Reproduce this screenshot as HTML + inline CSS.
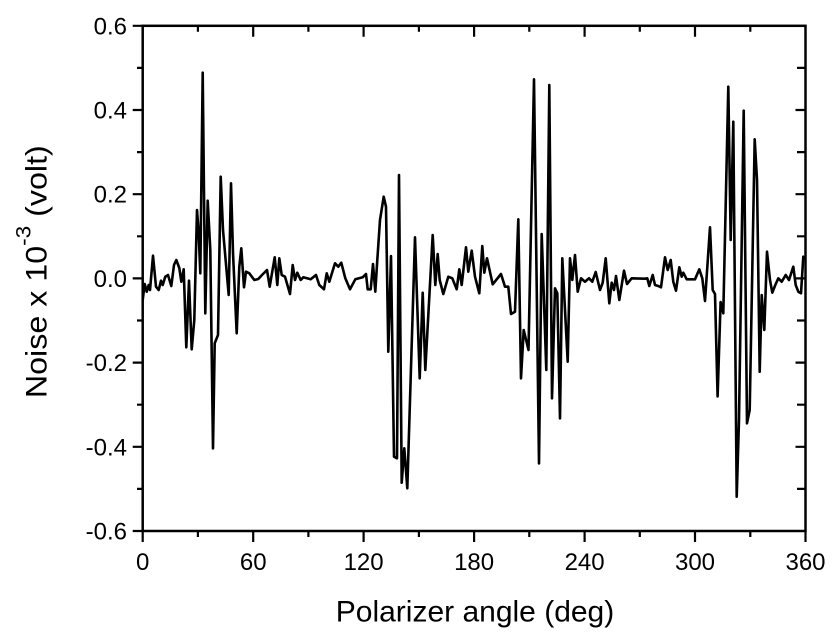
<!DOCTYPE html>
<html>
<head>
<meta charset="utf-8">
<style>
  html, body { margin: 0; padding: 0; background: #fff; }
  svg { display: block; }
  text { font-family: "Liberation Sans", Arial, sans-serif; fill: #000; }
</style>
</head>
<body>
<svg width="838" height="640" viewBox="0 0 838 640" xmlns="http://www.w3.org/2000/svg">
  <rect width="838" height="640" fill="#fff"/>

  <!-- data series -->
  <polyline fill="none" stroke="#000" stroke-width="2.6" stroke-linejoin="round" stroke-linecap="round" points="
142.7,300 144.7,284 146.7,291.7 148.7,285 150,290 153,255.7 156,286.7 158.7,290 161,280.7 162.7,285 165.3,276.7 168,275 171.3,286 174,265 176.3,260 179.3,268 181.3,281.7 183.7,269.3 186.3,347.3 189,280.7 191.7,349.3 194.3,320 197,210 198.7,233 200.3,273.3 202.7,72.7 204,193.3 205.3,313.3 207.7,200.7 210.3,250 213,448.3 214.7,343.3 218,335 220.7,176.7 223,230 228.7,295 231,183.3 233,253 236.7,333.3 239.3,266.7 241.3,248.3 244,287.3 246,271.7 249.3,273.3 254.3,280 258.3,279 262,275 267,270 269.7,286.7
274.7,257.3 277.3,285 279.3,258.3 281.7,275 285,276.7 290,294 292.7,265 295,280 297.3,272.7 300.7,280 303.3,277.3 310.7,279.3 316,275 319.3,285 324,289.3 326.7,273.3 329.3,281.7 335,263.3 338.3,266.7 341.3,262.7 345.3,278.3 350,289.3 355.3,279.3 362.7,277.3 366,274 367.7,289.3 370.7,289.3 373,264 375.3,291.7 377.3,260 380,220 383.7,196.7 386,206.7 388.3,351.7 391,256 394,456.7 397,458.3 399,175 401.7,482.7 404.3,448.3 407.3,488.3
415,237.3 419.7,378.3 422.7,292.7 425.3,370 432.7,235 435.3,285 437.7,254 439.7,280 443.3,294 448.3,276.7 452.3,278.3 456.7,289.3 459.3,269.3 461.7,285 466,247.3 468.3,271.7 471.7,250.7 475,276.7 479.3,293.3 482.3,246 484.3,272.7 487,258.3 492.7,284.3 501,274 505,286.7 508.3,286.7 511,314 515,311.7 518.3,219.3 521,378.3 523.7,330 528.5,350
534,79.3 539,463.3 541.7,234 546.3,370 549.3,85 552,398.3 555,288.3 557.3,293.3 560,418.3 562.3,258.3 567.7,361.7 570,258.3 572.3,280 575,255 577.7,291.7 581,278.3 585,281.7 589,278.3 592.3,281.7 595.7,272 600,290 602.7,282.7 605.7,258.3 609.3,303.3 611.7,282.7 614,290 616,276 619.3,300 624,270.7 627,284 631.7,278.3 645,278.7
647.3,278.3 649.3,286 652.7,275 655,285 658.3,286 661,287.3 665,257.3 667.7,270 670.7,260 673.3,281.7 676,290.7 679.3,267.3 681.7,276.7 683.3,272.7 686.7,279.3 695,279.3 699.3,269.3 702.3,278.3 705,301 710,227.3 712.7,290 715,294 717.6,396.5 720.6,302 723.3,313.3
728.3,86.7 730.7,240 733.3,121.7 736.7,496.7 739,420 743.7,110.7 747,423.3 749.7,410 754.7,139.3 757,180 759.7,371.7 761.7,295 764.3,330 767,251.7 770,280 772.3,292.7 775.3,285 778.3,278.3 781.7,281.7 785.7,275 789,280 793.3,266.7 795.7,285 798.3,291.7 801,293.3 803.3,256.7"/>

  <!-- axes frame -->
  <rect x="142.7" y="25.8" width="662.8" height="505.2" fill="none" stroke="#000" stroke-width="2.5"/>

  <!-- ticks -->
  <g stroke="#000" stroke-width="2.2">
    <path d="M142.7,531V542 M253.2,531V542 M363.6,531V542 M474.1,531V542 M584.6,531V542 M695,531V542 M805.5,531V542"/>
    <path d="M197.9,531V537 M308.4,531V537 M418.9,531V537 M529.3,531V537 M639.8,531V537 M750.3,531V537"/>
    <path d="M253.2,25.8V36.8 M363.6,25.8V36.8 M474.1,25.8V36.8 M584.6,25.8V36.8 M695,25.8V36.8"/>
    <path d="M197.9,25.8V31.8 M308.4,25.8V31.8 M418.9,25.8V31.8 M529.3,25.8V31.8 M639.8,25.8V31.8 M750.3,25.8V31.8"/>
    <path d="M142.7,25.8H132.7 M142.7,110H132.7 M142.7,194.2H132.7 M142.7,278.4H132.7 M142.7,362.6H132.7 M142.7,446.8H132.7 M142.7,531H132.7"/>
    <path d="M142.7,67.9H137 M142.7,152.1H137 M142.7,236.3H137 M142.7,320.5H137 M142.7,404.7H137 M142.7,488.9H137"/>
    <path d="M805.5,110H795.5 M805.5,194.2H795.5 M805.5,278.4H795.5 M805.5,362.6H795.5 M805.5,446.8H795.5"/>
    <path d="M805.5,67.9H797 M805.5,152.1H797 M805.5,236.3H797 M805.5,320.5H797 M805.5,404.7H797 M805.5,488.9H797"/>
  </g>

  <!-- y tick labels -->
  <g font-size="24" text-anchor="end">
    <text x="127" y="34.3">0.6</text>
    <text x="127" y="118.5">0.4</text>
    <text x="127" y="202.7">0.2</text>
    <text x="127" y="286.9">0.0</text>
    <text x="127" y="371.1">-0.2</text>
    <text x="127" y="455.3">-0.4</text>
    <text x="127" y="539.5">-0.6</text>
  </g>

  <!-- x tick labels -->
  <g font-size="24" text-anchor="middle">
    <text x="142.7" y="570">0</text>
    <text x="253.2" y="570">60</text>
    <text x="363.6" y="570">120</text>
    <text x="474.1" y="570">180</text>
    <text x="584.6" y="570">240</text>
    <text x="695" y="570">300</text>
    <text x="805.5" y="570">360</text>
  </g>

  <!-- axis titles -->
  <text x="475" y="621.7" font-size="30" text-anchor="middle">Polarizer angle (deg)</text>
  <text transform="translate(46.7,271.7) rotate(-90) scale(1.075,1)" font-size="30" text-anchor="middle">Noise x 10<tspan dy="-16" font-size="21">-3</tspan><tspan dy="16"> (volt)</tspan></text>
</svg>
</body>
</html>
